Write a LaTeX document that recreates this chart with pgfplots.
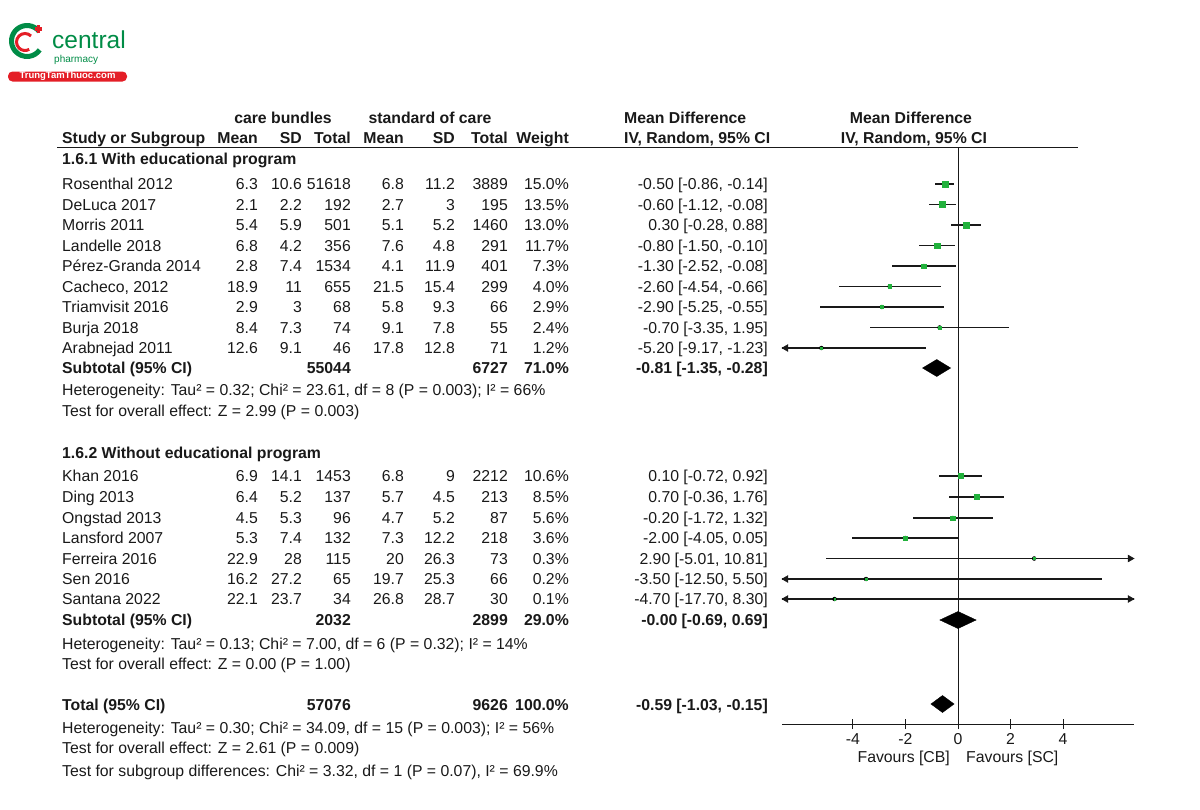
\documentclass[border=0pt]{standalone}
\usepackage{pgfplots}
\pgfplotsset{compat=1.18}
\usepackage{pgfplotstable}
\usepackage{fontspec}
\setmainfont{Liberation Sans}

\definecolor{mdgreen}{RGB}{34,177,60}
\definecolor{ink}{RGB}{25,25,25}
\definecolor{logogreen}{RGB}{0,140,70}
\definecolor{logored}{RGB}{228,30,38}

\newcommand\fs{\fontsize{15.8}{18}\selectfont}

% study rows: y = -(pixel row), md = mean difference, lo/hi = 95% CI, w = weight (%)
\pgfplotstableread{
y      md     lo      hi     w
-184   -0.50  -0.86   -0.14  15.0
-204.5 -0.60  -1.12   -0.08  13.5
-225    0.30  -0.28    0.88  13.0
-245.5 -0.80  -1.50   -0.10  11.7
-266   -1.30  -2.52   -0.08   7.3
-286.5 -2.60  -4.54   -0.66   4.0
-307   -2.90  -5.25   -0.55   2.9
-327.5 -0.70  -3.35    1.95   2.4
-348   -5.20  -9.17   -1.23   1.2
-476    0.10  -0.72    0.92  10.6
-497    0.70  -0.36    1.76   8.5
-518   -0.20  -1.72    1.32   5.6
-538   -2.00  -4.05    0.05   3.6
-558.5  2.90  -5.01   10.81   0.3
-579   -3.50  -12.50   5.50   0.2
-599   -4.70  -17.70   8.30   0.1
}\studies

% table rows: y, name, mean, sd, total, mean, sd, total, weight
\newcommand\row[9]{%
  \node[txt,anchor=base west] at (62pt,-#1pt) {#2};
  \node[txt,anchor=base east] at (258pt,-#1pt) {#3};
  \node[txt,anchor=base east] at (302pt,-#1pt) {#4};
  \node[txt,anchor=base east] at (351pt,-#1pt) {#5};
  \node[txt,anchor=base east] at (404pt,-#1pt) {#6};
  \node[txt,anchor=base east] at (455pt,-#1pt) {#7};
  \node[txt,anchor=base east] at (508pt,-#1pt) {#8};
  \node[txt,anchor=base east] at (569pt,-#1pt) {#9};}
\newcommand\ci[2]{\node[txt,anchor=base east] at (768pt,-#1pt) {#2};}
\newcommand\tot[5]{%
  \node[txt,anchor=base west] at (62pt,-#1pt) {\bfseries #2};
  \node[txt,anchor=base east] at (351pt,-#1pt) {\bfseries #3};
  \node[txt,anchor=base east] at (508pt,-#1pt) {\bfseries #4};
  \node[txt,anchor=base east] at (569pt,-#1pt) {\bfseries #5};}
\newcommand\txtline[2]{\node[txt,anchor=base west] at (62pt,-#1pt) {#2};}

\begin{document}
\begin{tikzpicture}[txt/.style={font=\fs, inner sep=0pt, text=ink}]
\path[use as bounding box] (0pt,0pt) rectangle (1200pt,-809pt);

% logo
\draw[logogreen, line width=5pt] (27pt,-41pt) ++(38:15.5pt) arc (38:325:15.5pt);
\draw[logored, line width=3pt] (25pt,-42pt) ++(45:8.5pt) arc (45:300:8.5pt);
\fill[logored] (36.5pt,-33pt) rectangle (40pt,-25pt);
\fill[logored] (34.5pt,-30.75pt) rectangle (42pt,-27.25pt);
\node[anchor=base west, inner sep=0pt, text=logogreen, font=\fontsize{24.5}{26}\selectfont] at (52pt,-48pt) {central};
\node[anchor=base west, inner sep=0pt, text=logogreen, font=\fontsize{10}{11}\selectfont] at (54pt,-62pt) {pharmacy};
\fill[logored, rounded corners=4.5pt] (8pt,-71.5pt) rectangle (127pt,-81.5pt);
\node[text=white, inner sep=0pt, font=\fontsize{9.5}{10}\selectfont\bfseries] at (67.5pt,-76.5pt) {TrungTamThuoc.com};

% forest plot
\begin{axis}[
  at={(782pt,-724pt)}, anchor=south west,
  scale only axis, width=352pt, height=577pt,
  xmin=-6.7, xmax=6.7, ymin=-724, ymax=-147,
  axis y line=none, axis x line*=bottom,
  x axis line style={-, line width=1pt, ink},
  xtick={-4,-2,0,2,4},
  tick align=center, major tick length=10pt,
  tick style={line width=1pt, ink},
  /pgf/number format/assume math mode=true,
  xticklabel style={font=\fs, text=ink, yshift=-1pt},
  clip=true,
]
\addplot[ink, line width=1pt] coordinates {(0,-147) (0,-724)};
\addplot[only marks, mark=none, error bars/.cd, x dir=both, x explicit,
  error mark=none, error bar style={line width=1.3pt, ink}]
  table[x=md, y=y, x error plus expr=\thisrow{hi}-\thisrow{md},
        x error minus expr=\thisrow{md}-\thisrow{lo}] {\studies};
\addplot[scatter, only marks, mark=square*,
  scatter/use mapped color={draw=mdgreen, fill=mdgreen},
  visualization depends on={0.6+2.4*sqrt(\thisrow{w}/15) \as \ms},
  scatter/@pre marker code/.append style={/tikz/mark size=\ms, /tikz/line width=0.2pt}]
  table[x=md, y=y] {\studies};
% arrow heads where the interval runs past the axis
\addplot[only marks, mark=triangle*, mark size=4pt, ink,
  mark options={rotate=90}] coordinates {(-6.55,-348) (-6.55,-579) (-6.55,-599)};
\addplot[only marks, mark=triangle*, mark size=4pt, ink,
  mark options={rotate=-90}] coordinates {(6.55,-558.5) (6.55,-599)};
% pooled estimates
\addplot[fill=black, draw=black] coordinates {(-1.35,-368) (-0.81,-359.5) (-0.28,-368) (-0.81,-376.5)} -- cycle;
\addplot[fill=black, draw=black] coordinates {(-0.69,-620) (0,-611.5) (0.69,-620) (0,-628.5)} -- cycle;
\addplot[fill=black, draw=black] coordinates {(-1.03,-704) (-0.59,-695.5) (-0.15,-704) (-0.59,-712.5)} -- cycle;
\end{axis}

\draw[ink, line width=1pt] (57pt,-147pt) -- (1078pt,-147pt);

\begin{scope}[yshift=-5.5pt]
% headers
\node[txt,font=\fs\bfseries,anchor=base] at (283pt,-118pt) {care bundles};
\node[txt,font=\fs\bfseries,anchor=base] at (430pt,-118pt) {standard of care};
\node[txt,font=\fs\bfseries,anchor=base west] at (624pt,-118pt) {Mean Difference};
\node[txt,font=\fs\bfseries,anchor=base] at (911pt,-118pt) {Mean Difference};
\node[txt,font=\fs\bfseries,anchor=base west] at (624pt,-138pt) {IV, Random, 95\% CI};
\node[txt,font=\fs\bfseries,anchor=base] at (914pt,-138pt) {IV, Random, 95\% CI};
\row{138}{\bfseries Study or Subgroup}{\bfseries Mean}{\bfseries SD}{\bfseries Total}{\bfseries Mean}{\bfseries SD}{\bfseries Total}{\bfseries Weight}

\txtline{159}{\bfseries 1.6.1 With educational program}
\row{184}{Rosenthal 2012}{6.3}{10.6}{51618}{6.8}{11.2}{3889}{15.0\%}
\ci{184}{-0.50 [-0.86, -0.14]}
\row{204.5}{DeLuca 2017}{2.1}{2.2}{192}{2.7}{3}{195}{13.5\%}
\ci{204.5}{-0.60 [-1.12, -0.08]}
\row{225}{Morris 2011}{5.4}{5.9}{501}{5.1}{5.2}{1460}{13.0\%}
\ci{225}{0.30 [-0.28, 0.88]}
\row{245.5}{Landelle 2018}{6.8}{4.2}{356}{7.6}{4.8}{291}{11.7\%}
\ci{245.5}{-0.80 [-1.50, -0.10]}
\row{266}{Pérez-Granda 2014}{2.8}{7.4}{1534}{4.1}{11.9}{401}{7.3\%}
\ci{266}{-1.30 [-2.52, -0.08]}
\row{286.5}{Cacheco, 2012}{18.9}{11}{655}{21.5}{15.4}{299}{4.0\%}
\ci{286.5}{-2.60 [-4.54, -0.66]}
\row{307}{Triamvisit 2016}{2.9}{3}{68}{5.8}{9.3}{66}{2.9\%}
\ci{307}{-2.90 [-5.25, -0.55]}
\row{327.5}{Burja 2018}{8.4}{7.3}{74}{9.1}{7.8}{55}{2.4\%}
\ci{327.5}{-0.70 [-3.35, 1.95]}
\row{348}{Arabnejad 2011}{12.6}{9.1}{46}{17.8}{12.8}{71}{1.2\%}
\ci{348}{-5.20 [-9.17, -1.23]}
\tot{368}{Subtotal (95\% CI)}{55044}{6727}{71.0\%}
\ci{368}{\bfseries -0.81 [-1.35, -0.28]}
\txtline{390}{Heterogeneity: Tau² = 0.32; Chi² = 23.61, df = 8 (P = 0.003); I² = 66\%}
\txtline{411}{Test for overall effect: Z = 2.99 (P = 0.003)}

\txtline{453}{\bfseries 1.6.2 Without educational program}
\row{476}{Khan 2016}{6.9}{14.1}{1453}{6.8}{9}{2212}{10.6\%}
\ci{476}{0.10 [-0.72, 0.92]}
\row{497}{Ding 2013}{6.4}{5.2}{137}{5.7}{4.5}{213}{8.5\%}
\ci{497}{0.70 [-0.36, 1.76]}
\row{518}{Ongstad 2013}{4.5}{5.3}{96}{4.7}{5.2}{87}{5.6\%}
\ci{518}{-0.20 [-1.72, 1.32]}
\row{538}{Lansford 2007}{5.3}{7.4}{132}{7.3}{12.2}{218}{3.6\%}
\ci{538}{-2.00 [-4.05, 0.05]}
\row{558.5}{Ferreira 2016}{22.9}{28}{115}{20}{26.3}{73}{0.3\%}
\ci{558.5}{2.90 [-5.01, 10.81]}
\row{579}{Sen 2016}{16.2}{27.2}{65}{19.7}{25.3}{66}{0.2\%}
\ci{579}{-3.50 [-12.50, 5.50]}
\row{599}{Santana 2022}{22.1}{23.7}{34}{26.8}{28.7}{30}{0.1\%}
\ci{599}{-4.70 [-17.70, 8.30]}
\tot{620}{Subtotal (95\% CI)}{2032}{2899}{29.0\%}
\ci{620}{\bfseries -0.00 [-0.69, 0.69]}
\txtline{644}{Heterogeneity: Tau² = 0.13; Chi² = 7.00, df = 6 (P = 0.32); I² = 14\%}
\txtline{664}{Test for overall effect: Z = 0.00 (P = 1.00)}

\tot{705}{Total (95\% CI)}{57076}{9626}{100.0\%}
\ci{705}{\bfseries -0.59 [-1.03, -0.15]}
\txtline{728}{Heterogeneity: Tau² = 0.30; Chi² = 34.09, df = 15 (P = 0.003); I² = 56\%}
\txtline{748}{Test for overall effect: Z = 2.61 (P = 0.009)}
\txtline{771}{Test for subgroup differences: Chi² = 3.32, df = 1 (P = 0.07), I² = 69.9\%}

\node[txt,anchor=base east] at (950pt,-757pt) {Favours [CB]};
\node[txt,anchor=base west] at (966pt,-757pt) {Favours [SC]};
\end{scope}
\end{tikzpicture}
\end{document}
